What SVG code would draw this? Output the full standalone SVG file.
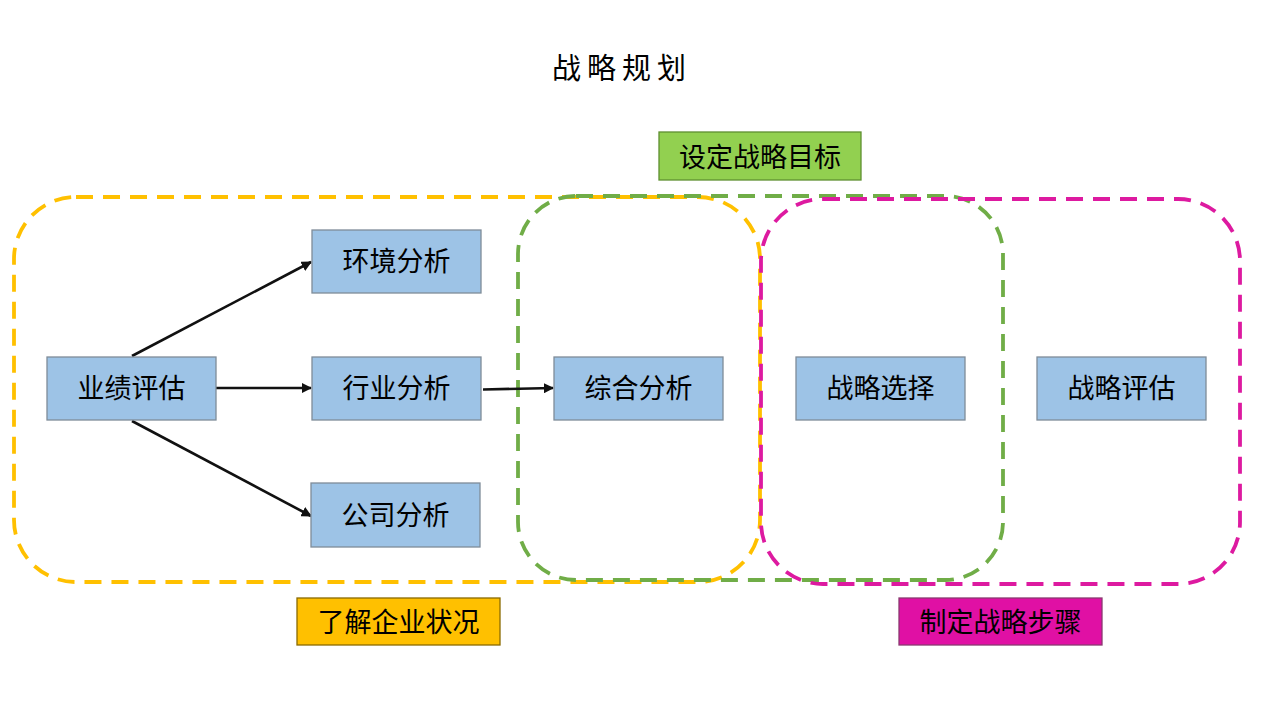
<svg xmlns="http://www.w3.org/2000/svg" width="1280" height="720" viewBox="0 0 1280 720">
<defs>
<style>
.t{font-family:"Noto Sans CJK SC","Noto Sans",sans-serif;font-size:27px;fill:#000;text-anchor:middle;dominant-baseline:central}
.n{fill:#9DC3E6;stroke:#7F8C99;stroke-width:1.3}
.g{fill:none;stroke-width:3.8;stroke-dasharray:17 10}
.c{stroke:#111;stroke-width:2.6;fill:none;marker-end:url(#ah)}
</style>
<marker id="ah" viewBox="0 0 10 10" refX="9" refY="5" markerWidth="4" markerHeight="4" orient="auto" markerUnits="strokeWidth">
<path d="M0,0L10,5L0,10z" fill="#111"/>
</marker>
</defs>
<rect width="1280" height="720" fill="#fff"/>
<text x="622" y="66" class="t" style="font-size:29px;letter-spacing:6px;font-family:'Noto Sans CJK SC',serif">战略规划</text>
<g id="groups">
<rect id="grp-yellow" x="14" y="197" width="746" height="385" rx="62" class="g" stroke="#FFC000"/>
<rect id="grp-green" x="518" y="196" width="485" height="384" rx="58" class="g" stroke="#70AD47"/>
<rect id="grp-magenta" x="761" y="199" width="479" height="385" rx="62" class="g" stroke="#DD1AA0"/>
</g>
<g id="label-goal"><rect x="659" y="132" width="202" height="48" fill="#92D050" stroke="#5E8F30" stroke-width="1.3"/><text x="760" y="155" class="t">设定战略目标</text></g>
<g id="label-understand"><rect x="297" y="598" width="203" height="47" fill="#FFC000" stroke="#8A6A00" stroke-width="1.3"/><text x="398.5" y="620" class="t">了解企业状况</text></g>
<g id="label-steps"><rect x="899" y="598" width="203" height="47" fill="#E010A4" stroke="#8A3A70" stroke-width="1.3"/><text x="1000.5" y="620" class="t">制定战略步骤</text></g>
<g id="connectors">
<line x1="132" y1="356" x2="311" y2="262" class="c"/>
<line x1="216" y1="388" x2="311" y2="388" class="c"/>
<line x1="132" y1="421" x2="311" y2="516" class="c"/>
<line x1="483" y1="389.5" x2="553" y2="388" class="c"/>
</g>
<g id="n1"><rect x="47" y="357" width="169" height="63" class="n"/><text x="131.5" y="386.5" class="t">业绩评估</text></g>
<g id="n2"><rect x="312" y="230" width="169" height="63" class="n"/><text x="396.5" y="259.5" class="t">环境分析</text></g>
<g id="n3"><rect x="312" y="357" width="169" height="63" class="n"/><text x="396.5" y="386.5" class="t">行业分析</text></g>
<g id="n4"><rect x="311" y="483" width="169" height="64" class="n"/><text x="395.5" y="513" class="t">公司分析</text></g>
<g id="n5"><rect x="554" y="357" width="169" height="63" class="n"/><text x="638.5" y="386.5" class="t">综合分析</text></g>
<g id="n6"><rect x="796" y="357" width="169" height="63" class="n"/><text x="880.5" y="386.5" class="t">战略选择</text></g>
<g id="n7"><rect x="1037" y="357" width="169" height="63" class="n"/><text x="1121.5" y="386.5" class="t">战略评估</text></g>
</svg>
